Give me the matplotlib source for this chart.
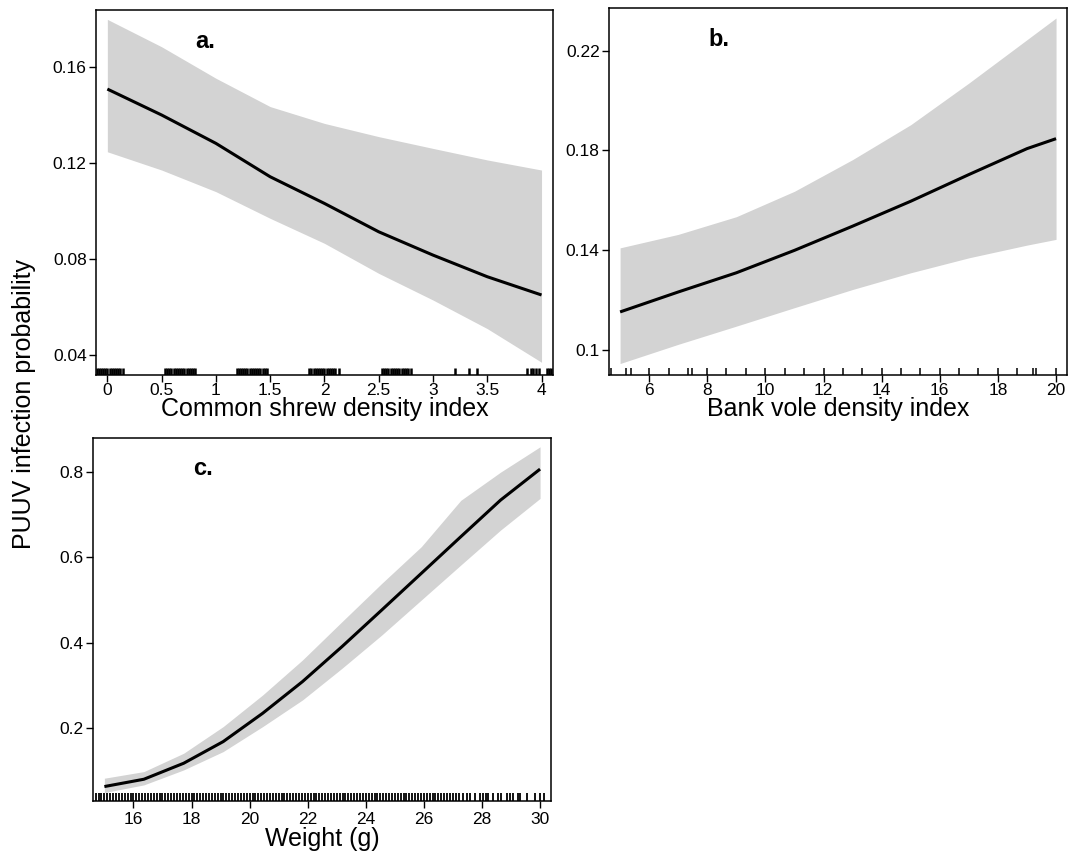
import matplotlib
matplotlib.use('Agg')
import matplotlib.pyplot as plt

plt.rcParams['font.family'] = ['Liberation Sans', 'DejaVu Sans']

# panel a: common shrew density index
shrew_x = [0, 0.5, 1, 1.5, 2, 2.5, 3, 3.5, 4]
shrew_fit = [0.1507, 0.1399, 0.1281, 0.1142, 0.1031, 0.0913, 0.0816, 0.0726, 0.0650]
shrew_upper = [0.1797, 0.1683, 0.1552, 0.1434, 0.1364, 0.1309, 0.1260, 0.1212, 0.1170]
shrew_lower = [0.1246, 0.1170, 0.1080, 0.0969, 0.0865, 0.0740, 0.0629, 0.0510, 0.0370]
shrew_rug = [-0.10, -0.08, -0.06, -0.04, -0.02, 0.0, 0.02, 0.04, 0.06, 0.08, 0.10, 0.12, 0.14,
             0.53, 0.55, 0.57, 0.59, 0.61, 0.63, 0.65, 0.67, 0.69, 0.71, 0.73, 0.75, 0.77, 0.79, 0.81,
             1.19, 1.21, 1.23, 1.25, 1.27, 1.29, 1.31, 1.33, 1.35, 1.37, 1.39, 1.41, 1.43, 1.45, 1.47,
             1.86, 1.88, 1.90, 1.92, 1.94, 1.96, 1.98, 2.00, 2.02, 2.04, 2.06, 2.08, 2.10, 2.13,
             2.53, 2.55, 2.57, 2.59, 2.61, 2.63, 2.65, 2.67, 2.69, 2.71, 2.73, 2.75, 2.77, 2.80,
             3.20, 3.33, 3.41, 3.87, 3.90, 3.92, 3.95, 3.98, 4.05, 4.07, 4.09]
shrew_xticks = [0, 0.5, 1, 1.5, 2, 2.5, 3, 3.5, 4]
shrew_xticklabels = ['0', '0.5', '1', '1.5', '2', '2.5', '3', '3.5', '4']
shrew_yticks = [0.04, 0.08, 0.12, 0.16]

# panel b: bank vole density index
vole_x = [5, 7, 9, 11, 13, 15, 17, 19, 20]
vole_fit = [0.1152, 0.1232, 0.1309, 0.1399, 0.1496, 0.1596, 0.1703, 0.1807, 0.1847]
vole_upper = [0.1409, 0.1463, 0.1534, 0.1636, 0.1763, 0.1903, 0.2070, 0.2244, 0.2331]
vole_lower = [0.0945, 0.1022, 0.1095, 0.1169, 0.1242, 0.1309, 0.1369, 0.1420, 0.1443]
vole_rug = [4.68, 5.22, 5.36, 6.0, 6.69, 7.34, 7.49, 8.0, 8.66, 9.33, 10.0, 10.67, 11.32,
            12.0, 12.66, 13.33, 14.0, 14.66, 15.32, 16.0, 16.66, 17.32, 18.0, 18.65,
            19.22, 19.31, 20.0]
vole_xticks = [6, 8, 10, 12, 14, 16, 18, 20]
vole_yticks = [0.1, 0.14, 0.18, 0.22]
vole_yticklabels = ['0.1', '0.14', '0.18', '0.22']

# panel c: weight
weight_x = [15, 16.36, 17.73, 19.09, 20.45, 21.82, 23.18, 24.55, 25.91, 27.27, 28.64, 30]
weight_fit = [0.0637, 0.0808, 0.1182, 0.1688, 0.2351, 0.3091, 0.3909, 0.4766, 0.5622, 0.6479, 0.7336, 0.8061]
weight_upper = [0.0832, 0.0987, 0.1416, 0.2039, 0.2779, 0.3597, 0.4493, 0.5389, 0.6246, 0.7330, 0.7990, 0.8582]
weight_lower = [0.0496, 0.0676, 0.1026, 0.1455, 0.2039, 0.2662, 0.3402, 0.4181, 0.4999, 0.5817, 0.6635, 0.7375]
weight_rug = [14.7, 14.8, 14.9, 15.0, 15.1, 15.2, 15.3, 15.4, 15.5, 15.6, 15.7, 15.8, 15.9,
              16.0, 16.1, 16.2, 16.3, 16.4, 16.5, 16.6, 16.7, 16.8, 16.9,
              17.0, 17.1, 17.2, 17.3, 17.4, 17.5, 17.6, 17.7, 17.8, 17.9,
              18.0, 18.1, 18.2, 18.3, 18.4, 18.5, 18.6, 18.7, 18.8, 18.9,
              19.0, 19.1, 19.2, 19.3, 19.4, 19.5, 19.6, 19.7, 19.8, 19.9,
              20.0, 20.1, 20.2, 20.3, 20.4, 20.5, 20.6, 20.7, 20.8, 20.9,
              21.0, 21.1, 21.2, 21.3, 21.4, 21.5, 21.6, 21.7, 21.8, 21.9,
              22.0, 22.1, 22.2, 22.3, 22.4, 22.5, 22.6, 22.7, 22.8, 22.9,
              23.0, 23.1, 23.2, 23.3, 23.4, 23.5, 23.6, 23.7, 23.8, 23.9,
              24.0, 24.1, 24.2, 24.3, 24.4, 24.5, 24.6, 24.7, 24.8, 24.9,
              25.0, 25.1, 25.2, 25.3, 25.4, 25.5, 25.6, 25.7, 25.8, 25.9,
              26.0, 26.1, 26.2, 26.3, 26.4, 26.5, 26.6, 26.7, 26.8, 26.9,
              27.0, 27.1, 27.2, 27.35, 27.5, 27.6, 27.75,
              27.93, 28.05, 28.14, 28.22, 28.39, 28.56, 28.65, 28.85, 28.97, 29.08,
              29.25, 29.31, 29.54, 29.83, 30.0, 30.14]
weight_xticks = [16, 18, 20, 22, 24, 26, 28, 30]
weight_yticks = [0.2, 0.4, 0.6, 0.8]
weight_yticklabels = ['0.2', '0.4', '0.6', '0.8']


def draw_panel(ax, x, fit, upper, lower, rug, letter, xlabel, xlabel_y, tick_pad=0.5, rug_lw=1.1):
    ax.fill_between(x, lower, upper, color='#d3d3d3', linewidth=0)
    ax.plot(x, fit, color='black', linewidth=2.2, solid_capstyle='butt')
    # rug along the bottom, inside the box
    ax.vlines(rug, 0, 0.02, transform=ax.get_xaxis_transform(), color='black', linewidth=rug_lw)
    ax.text(0.24, 0.915, letter, transform=ax.transAxes, fontsize=17, fontweight='bold',
            ha='center', va='center')
    ax.text(0.5, xlabel_y, xlabel, transform=ax.transAxes, fontsize=18, ha='center', va='baseline')
    for s in ax.spines.values():
        s.set_linewidth(1.1)
    ax.tick_params(direction='out', length=5.2, width=1.0, labelsize=12.5)
    ax.tick_params(axis='x', pad=tick_pad)
    ax.tick_params(axis='y', pad=1.5)


def main():
    fig = plt.figure(figsize=(10.77, 8.55), dpi=100)

    ax_a = fig.add_axes([0.0891, 0.5614, 0.4243, 0.4269])
    draw_panel(ax_a, shrew_x, shrew_fit, shrew_upper, shrew_lower, shrew_rug, 'a.',
               'Common shrew density index', -0.112, rug_lw=1.8)
    ax_a.set_xlim(-0.105, 4.105)
    ax_a.set_ylim(0.0317, 0.1836)
    ax_a.set_xticks(shrew_xticks)
    ax_a.set_xticklabels(shrew_xticklabels)
    ax_a.set_yticks(shrew_yticks)
    ax_a.set_yticklabels(['%.2f' % v for v in shrew_yticks])

    ax_b = fig.add_axes([0.5655, 0.5614, 0.4253, 0.4292])
    draw_panel(ax_b, vole_x, vole_fit, vole_upper, vole_lower, vole_rug, 'b.',
               'Bank vole density index', -0.112)
    ax_b.set_xlim(4.62, 20.38)
    ax_b.set_ylim(0.0899, 0.2371)
    ax_b.set_xticks(vole_xticks)
    ax_b.set_yticks(vole_yticks)
    ax_b.set_yticklabels(vole_yticklabels)

    ax_c = fig.add_axes([0.0864, 0.0637, 0.4253, 0.4246])
    draw_panel(ax_c, weight_x, weight_fit, weight_upper, weight_lower, weight_rug, 'c.',
               'Weight (g)', -0.124, tick_pad=3.0, rug_lw=1.3)
    ax_c.set_xlim(14.61, 30.38)
    ax_c.set_ylim(0.031, 0.880)
    ax_c.set_xticks(weight_xticks)
    ax_c.set_yticks(weight_yticks)
    ax_c.set_yticklabels(weight_yticklabels)

    fig.text(0.022, 0.5275, 'PUUV infection probability', rotation=90, fontsize=18,
             ha='center', va='center')

    fig.savefig('out.png', dpi=100)


main()
